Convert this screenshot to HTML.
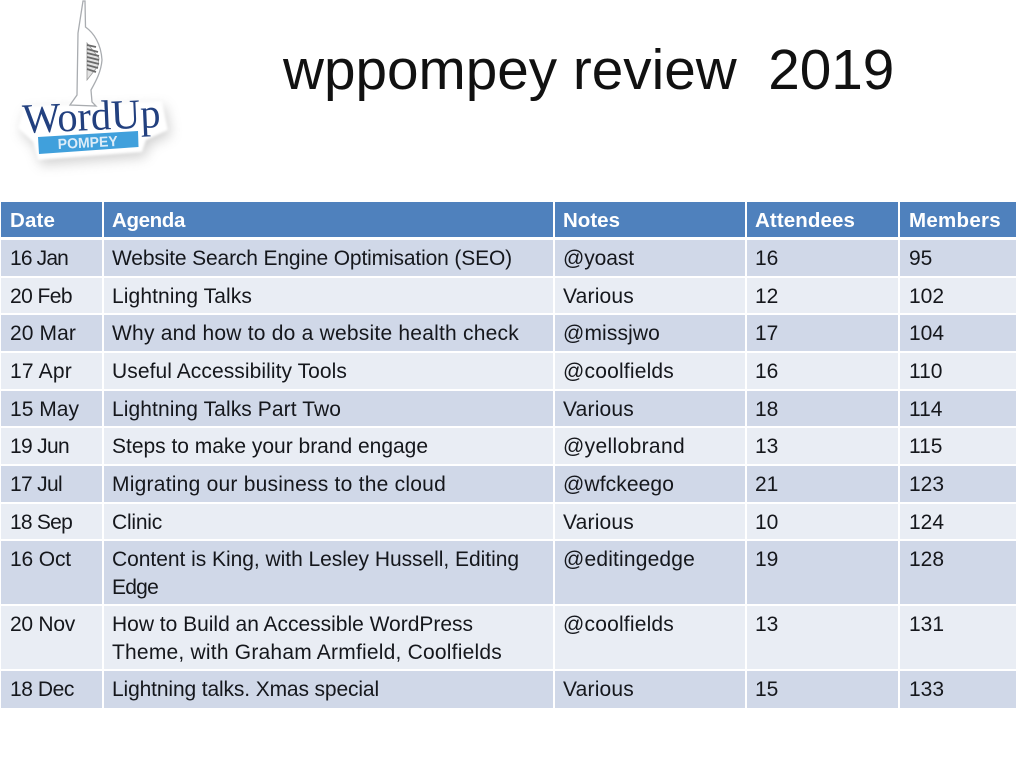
<!DOCTYPE html>
<html lang="en">
<head>
<meta charset="utf-8">
<title>wppompey review 2019</title>
<style>
html,body{margin:0;padding:0;background:#fff;}
body{width:1024px;height:768px;position:relative;overflow:hidden;font-family:"Liberation Sans",sans-serif;}
#title{position:absolute;left:283px;top:40px;font-size:56.7px;line-height:62px;color:#111;white-space:nowrap;filter:blur(.3px);}
#logo{position:absolute;left:0;top:0;}
#tbl{filter:blur(.3px);}
.c{position:absolute;box-sizing:border-box;font-size:21px;line-height:28px;color:#15171c;white-space:nowrap;padding-top:5px;}
.c span{display:inline-block;}
.h{background:#4f81bd;color:#fff;font-weight:bold;font-size:20.5px;}
.a{background:#d0d8e8;}
.b{background:#e9edf4;}
</style>
</head>
<body>
<svg id="logo" width="200" height="180" viewBox="0 0 200 180">
<defs>
<filter id="s" x="-20%" y="-30%" width="140%" height="160%"><feGaussianBlur stdDeviation="6"/></filter>
<filter id="e" x="-10%" y="-10%" width="120%" height="120%"><feGaussianBlur stdDeviation="1.2"/></filter>
<filter id="t" x="-10%" y="-10%" width="120%" height="120%"><feGaussianBlur stdDeviation=".35"/></filter>
</defs>
<path d="M24 106 L162 101 L168 130 L146 140 L142 152 L38 160 L33 142 L18 128 Z" fill="#9a9a9a" opacity=".45" filter="url(#s)" transform="translate(3,5)"/>
<path d="M24 106 L162 101 L168 130 L146 140 L142 152 L38 160 L33 142 L18 128 Z" fill="#fff" filter="url(#e)"/>
<path d="M83 1 L85 1 L85.5 27 C94 33 101 44 102 60 C101 72 96 81 91 90 L92 102 L96 106 L70 105 L77 95 L78 33 Z" fill="#fff" stroke="#a9acb0" stroke-width="1.3" filter="url(#t)"/>
<path d="M87 43 L99 58 L98 66 L87 80 Z" fill="#e2e2e2" stroke="#9a9a9a" stroke-width=".8" filter="url(#t)"/>
<path d="M87 45 L96 47 M87 49 L98 52 M87 53 L99 56 M87 57 L99 60 M87 61 L99 64 M87 65 L98 68 M87 69 L96 72" stroke="#6a6a6a" stroke-width="1.8" fill="none" filter="url(#t)"/>
<text x="23" y="133" font-family="'Liberation Serif',serif" font-size="42" fill="#22407f" textLength="138" lengthAdjust="spacingAndGlyphs" transform="rotate(-2.5 23 133)">WordUp</text>
<path d="M38 137 L138 131 L138.5 147 L39 154 Z" fill="#3fa0dc" filter="url(#t)"/>
<text x="58" y="149" font-size="14.5" font-weight="bold" fill="#dcecf8" textLength="60" lengthAdjust="spacingAndGlyphs" transform="rotate(-3 58 149)">POMPEY</text>
</svg>
<div id="title">wppompey review&nbsp; 2019</div>
<div id="tbl"></div>
<script>
var headers = ['Date','Agenda','Notes','Attendees','Members'];
var headerEnds = [55,185,620,855,1001];
var dates = ['16 Jan','20 Feb','20 Mar','17 Apr','15 May','19 Jun','17 Jul','18 Sep','16 Oct','20 Nov','18 Dec'];
var dateEnds = [68,72,76,72,79,69,62,72,71,75,74];
var agendas = [['Website Search Engine Optimisation (SEO)'],['Lightning Talks'],['Why and how to do a website health check'],['Useful Accessibility Tools'],['Lightning Talks Part Two'],['Steps to make your brand engage'],['Migrating our business to the cloud'],['Clinic'],['Content is King, with Lesley Hussell, Editing','Edge'],['How to Build an Accessible WordPress','Theme, with Graham Armfield, Coolfields'],['Lightning talks. Xmas special']];
var agendaEnds = [[512],[252],[519],[347],[341],[428],[446],[162],[519,158],[473,502],[379]];
var notes = ['@yoast','Various','@missjwo','@coolfields','Various','@yellobrand','@wfckeego','Various','@editingedge','@coolfields','Various'];
var noteEnds = [634,634,660,674,634,685,674,634,695,674,634];
var attendees = [16,12,17,16,18,13,21,10,19,13,15];
var members = [95,102,104,110,114,115,123,124,128,131,133];
var colX = [1,104,555,747,900];
var colW = [101,449,190,151,116];
var pad = [9,8,8,8,9];
var rowY = [240,278,315,353,391,428,466,504,541,606,671];
var rowH = [36,35,36,36,35,36,36,35,63,63,37];
var tbl = document.getElementById('tbl');
function cell(lines,ends,col,y,h,cls,name){
  var d = document.createElement('div');
  d.className = 'c ' + cls;
  d.style.cssText = 'left:'+colX[col]+'px;top:'+y+'px;width:'+colW[col]+'px;height:'+h+'px;padding-left:'+pad[col]+'px';
  
  
  tbl.appendChild(d);
  lines.forEach(function(t,k){
    var s = document.createElement('span');
    s.textContent = t;
    d.appendChild(s);
    if(k < lines.length-1){ d.appendChild(document.createElement('br')); }
    if(ends){
      var w = s.getBoundingClientRect().width;
      var target = ends[k] - (colX[col]+pad[col]);
      s.style.letterSpacing = ((target-w)/t.length).toFixed(3)+'px';
    }
  });
}
headers.forEach(function(t,i){
  cell([t],[headerEnds[i]],i,202,35,'h','header-'+t.toLowerCase());
});
dates.forEach(function(dt,r){
  var cls = r%2 ? 'b' : 'a';
  cell([dt],[dateEnds[r]],0,rowY[r],rowH[r],cls,'date-cell-'+(r+1));
  cell(agendas[r],agendaEnds[r],1,rowY[r],rowH[r],cls,'agenda-cell-'+(r+1));
  cell([notes[r]],[noteEnds[r]],2,rowY[r],rowH[r],cls,'notes-cell-'+(r+1));
  cell([String(attendees[r])],null,3,rowY[r],rowH[r],cls,'attendees-cell-'+(r+1));
  cell([String(members[r])],null,4,rowY[r],rowH[r],cls,'members-cell-'+(r+1));
});
</script>
</body>
</html>
